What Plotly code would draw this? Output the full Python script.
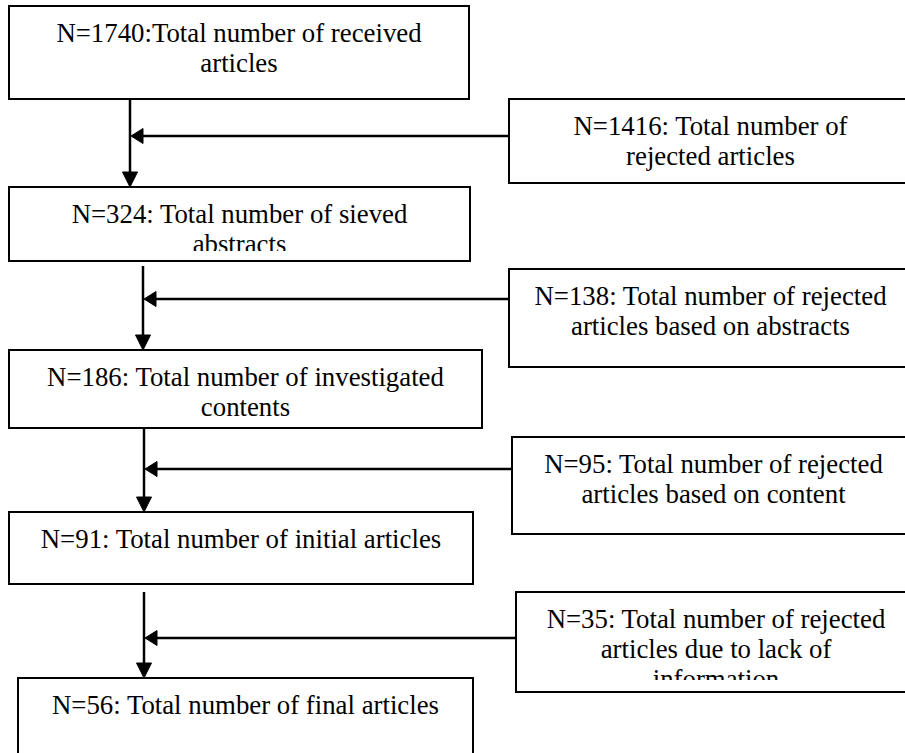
import plotly.graph_objects as go

# ---------------- data ----------------
main_counts = [1740, 324, 186, 91, 56]
main_lines = [
    ["N={}:Total number of received", "articles"],
    ["N={}: Total number of sieved", "abstracts"],
    ["N={}: Total number of investigated", "contents"],
    ["N={}: Total number of initial articles"],
    ["N={}: Total number of final articles"],
]
rejected_counts = [1416, 138, 95, 35]
rejected_lines = [
    ["N={}: Total number of", "rejected articles"],
    ["N={}: Total number of rejected", "articles based on abstracts"],
    ["N={}: Total number of rejected", "articles based on content"],
    ["N={}: Total number of rejected", "articles due to lack of", "information"],
]

# ---------------- layout geometry (pixels) ----------------
W, H = 905, 753
main_boxes = [(9, 469, 6, 99), (9, 470, 187, 261), (9, 482, 350, 428),
              (9, 473, 512, 584), (18, 473, 678, 762)]
side_boxes = [(509, 912, 99, 183), (509, 912, 269, 367),
              (512, 915, 437, 534), (516, 916, 592, 692)]
main_clip = [None, 251, None, None, None]
side_clip = [None, None, None, 680]
flow_x = [130, 143, 144, 144]
flow_y0 = [99, 266, 427, 592]
branch_y = [136, 299, 469, 638]

FONT = dict(family="Liberation Serif", size=26.8, color="#000")
LINE_GAP = 30
FIRST_BASE = 35
TEXT_DY = 6

fig = go.Figure()
shapes = []


def add_box(box, lines, count, clip):
    x0, x1, y0, y1 = box
    cx = (x0 + x1) / 2
    xs, ys, ts = [], [], []
    for i, ln in enumerate(lines):
        xs.append(cx)
        ys.append(y0 + FIRST_BASE + i * LINE_GAP - TEXT_DY)
        ts.append(ln.format(count))
    fig.add_trace(go.Scatter(x=xs, y=ys, text=ts, mode="text",
                             textposition="middle center", textfont=FONT,
                             hoverinfo="skip", showlegend=False, cliponaxis=False))
    if clip is not None:
        shapes.append(dict(type="rect", layer="above", x0=x0 + 1.5, x1=x1 - 1.5,
                           y0=clip, y1=y1 - 1, fillcolor="white",
                           line=dict(width=0)))
    shapes.append(dict(type="rect", layer="above", x0=x0, x1=x1, y0=y0, y1=y1,
                       line=dict(color="#000", width=2)))


for b, l, c, cl in zip(main_boxes, main_lines, main_counts, main_clip):
    add_box(b, l, c, cl)
for b, l, c, cl in zip(side_boxes, rejected_lines, rejected_counts, side_clip):
    add_box(b, l, c, cl)

# arrows
for i in range(4):
    x = flow_x[i]
    y0 = flow_y0[i]
    y1 = main_boxes[i + 1][2]
    shapes.append(dict(type="line", layer="above", x0=x, x1=x, y0=y0, y1=y1 - 12,
                       line=dict(color="#000", width=2.5)))
    shapes.append(dict(type="path", layer="above",
                       path=f"M {x-7.5},{y1-15} L {x+7.5},{y1-15} L {x},{y1} Z",
                       fillcolor="#000", line=dict(color="#000", width=1)))
    by = branch_y[i]
    sx = side_boxes[i][0]
    shapes.append(dict(type="line", layer="above", x0=sx, x1=x + 10, y0=by, y1=by,
                       line=dict(color="#000", width=2.5)))
    shapes.append(dict(type="path", layer="above",
                       path=f"M {x+13},{by-7.5} L {x+13},{by+7.5} L {x+1},{by} Z",
                       fillcolor="#000", line=dict(color="#000", width=1)))

fig.update_layout(
    width=W, height=H, margin=dict(l=0, r=0, t=0, b=0),
    paper_bgcolor="white", plot_bgcolor="white",
    xaxis=dict(range=[0, W], visible=False, fixedrange=True),
    yaxis=dict(range=[H, 0], visible=False, fixedrange=True),
    shapes=shapes, showlegend=False,
)
fig.write_html(
    "out.html",
    config={"displayModeBar": False},
    post_script="document.body.style.margin='0';document.body.style.overflow='hidden';",
)
